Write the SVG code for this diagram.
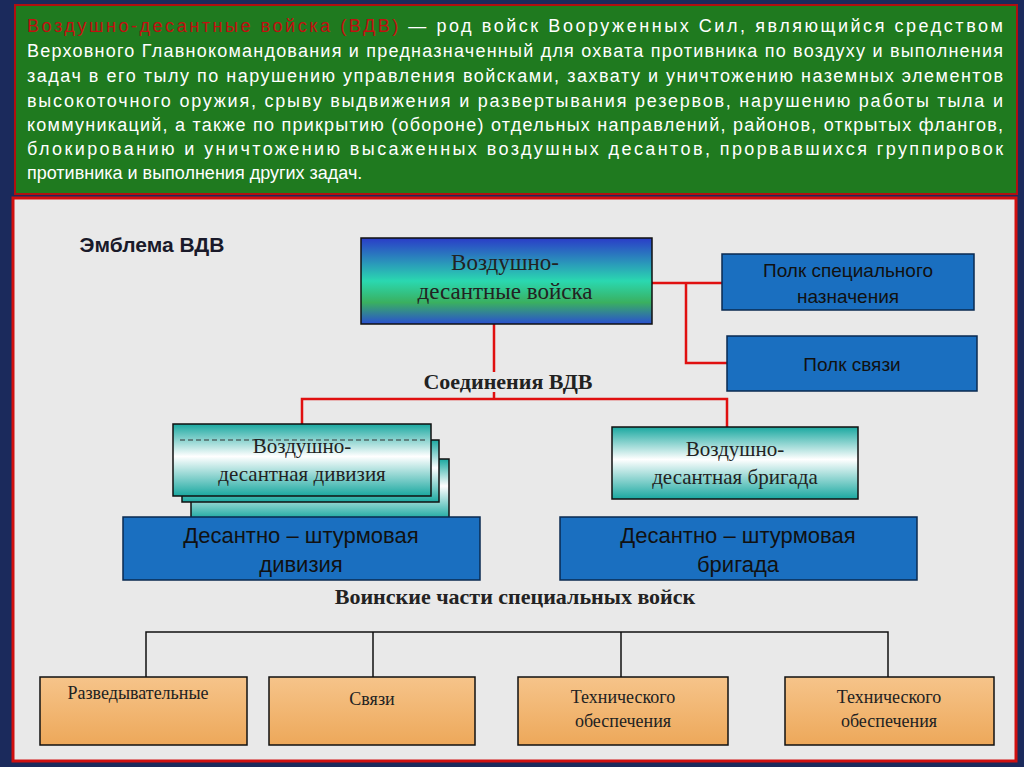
<svg xmlns="http://www.w3.org/2000/svg" width="1024" height="767" viewBox="0 0 1024 767">
<defs>
<linearGradient id="gMain" x1="0" y1="0" x2="0" y2="1">
<stop offset="0" stop-color="#2a3cc8"/><stop offset="0.5" stop-color="#2ad8b0"/><stop offset="0.75" stop-color="#3ab060"/><stop offset="1" stop-color="#2a50d0"/>
</linearGradient>
<linearGradient id="gTeal" x1="0" y1="0" x2="0" y2="1">
<stop offset="0" stop-color="#1aa8a0"/><stop offset="0.45" stop-color="#ffffff"/><stop offset="1" stop-color="#1aa8a0"/>
</linearGradient>
<linearGradient id="gOr" x1="0" y1="0" x2="0" y2="1">
<stop offset="0" stop-color="#f6c48a"/><stop offset="1" stop-color="#eda85a"/>
</linearGradient>
<style>
.para{font-family:"Liberation Sans Narrow","Liberation Sans",sans-serif;font-size:18px;fill:#fff}
.ser{font-family:"Liberation Serif","DejaVu Serif",serif;fill:#222;text-anchor:middle}
.sans{font-family:"Liberation Sans",Arial,sans-serif;fill:#111;text-anchor:middle}
.blue{fill:#1a6fc0;stroke:#0a2a50;stroke-width:1.5}
.red{stroke:#e01010;stroke-width:2.5;fill:none}
.blk{stroke:#111;stroke-width:1.5;fill:none}
.or{fill:url(#gOr);stroke:#111;stroke-width:1.5}
.teal{fill:url(#gTeal);stroke:#111;stroke-width:1.5}
</style>
</defs>
<rect width="1024" height="767" fill="#1b2a5c"/>
<rect x="15" y="5" width="1002" height="189" fill="#1f7a1f" stroke="#b01010" stroke-width="2"/>
<g class="para">
<text x="27" y="32" textLength="976" lengthAdjust="spacing"><tspan fill="#c01010">Воздушно-десантные войска (ВДВ)</tspan> — род войск Вооруженных Сил, являющийся средством</text>
<text x="27" y="57" textLength="976" lengthAdjust="spacing">Верховного Главнокомандования и предназначенный для охвата противника по воздуху и выполнения</text>
<text x="27" y="82" textLength="976" lengthAdjust="spacing">задач в его тылу по нарушению управления войсками, захвату и уничтожению наземных элементов</text>
<text x="27" y="107" textLength="976" lengthAdjust="spacing">высокоточного оружия, срыву выдвижения и развертывания резервов, нарушению работы тыла и</text>
<text x="27" y="131" textLength="976" lengthAdjust="spacing">коммуникаций, а также по прикрытию (обороне) отдельных направлений, районов, открытых флангов,</text>
<text x="27" y="155" textLength="976" lengthAdjust="spacing">блокированию и уничтожению высаженных воздушных десантов, прорвавшихся группировок</text>
<text x="27" y="179">противника и выполнения других задач.</text>
</g>
<rect x="13" y="198" width="1003" height="563" fill="#e9e9e9" stroke="#d01010" stroke-width="3"/>
<text x="152" y="252" class="sans" style="font-weight:bold;font-size:21px;fill:#1a1a2a">Эмблема ВДВ</text>
<g id="connectors">
<path class="red" d="M652 283H722M686 283V363H727M494 324V372M494 392V399M302 424V399H727V427"/>
<path class="blk" d="M146 677V632H888V677M373 632V677M621 632V677"/>
</g>
<g id="main"><rect x="361" y="238" width="291" height="86" fill="url(#gMain)" stroke="#111" stroke-width="1.5"/>
<text class="ser" x="505" y="270" font-size="23">Воздушно-</text><text class="ser" x="505" y="299" font-size="23">десантные войска</text></g>
<g id="polk-spec"><rect class="blue" x="722" y="254" width="252" height="56"/>
<text class="sans" x="848" y="277" font-size="19">Полк специального</text><text class="sans" x="848" y="303" font-size="19">назначения</text></g>
<g id="polk-sv"><rect class="blue" x="727" y="336" width="250" height="55"/>
<text class="sans" x="852" y="371" font-size="19">Полк связи</text></g>
<text class="ser" x="508" y="389" font-size="22" style="font-weight:bold">Соединения ВДВ</text>
<g id="div"><rect class="teal" x="191" y="459" width="258" height="60"/><rect class="teal" x="182" y="440" width="257" height="62"/>
<rect class="teal" x="173" y="424" width="258" height="72"/>
<path d="M180 440H425" stroke="#333" stroke-dasharray="5,3" fill="none"/>
<text class="ser" x="302" y="453" font-size="21">Воздушно-</text><text class="ser" x="302" y="481" font-size="21">десантная дивизия</text></g>
<g id="brig"><rect class="teal" x="612" y="427" width="246" height="72"/>
<text class="ser" x="735" y="456" font-size="21">Воздушно-</text><text class="ser" x="735" y="484" font-size="21">десантная бригада</text></g>
<g id="dsh-div"><rect class="blue" x="123" y="517" width="357" height="63"/>
<text class="sans" x="301" y="543" font-size="22">Десантно – штурмовая</text><text class="sans" x="301" y="572" font-size="22">дивизия</text></g>
<g id="dsh-brig"><rect class="blue" x="560" y="517" width="357" height="63"/>
<text class="sans" x="738" y="543" font-size="22">Десантно – штурмовая</text><text class="sans" x="738" y="572" font-size="22">бригада</text></g>
<text class="ser" x="515" y="604" font-size="22" style="font-weight:bold">Воинские части специальных войск</text>
<g id="razv"><rect class="or" x="40" y="677" width="207" height="68"/><text class="ser" x="138" y="699" font-size="18">Разведывательные</text></g>
<g id="svyazi"><rect class="or" x="269" y="677" width="206" height="68"/><text class="ser" x="372" y="705" font-size="18">Связи</text></g>
<g id="tech1"><rect class="or" x="518" y="677" width="210" height="68"/><text class="ser" x="623" y="703" font-size="18">Технического</text><text class="ser" x="623" y="727" font-size="18">обеспечения</text></g>
<g id="tech2"><rect class="or" x="785" y="677" width="209" height="68"/><text class="ser" x="889" y="703" font-size="18">Технического</text><text class="ser" x="889" y="727" font-size="18">обеспечения</text></g>
</svg>
